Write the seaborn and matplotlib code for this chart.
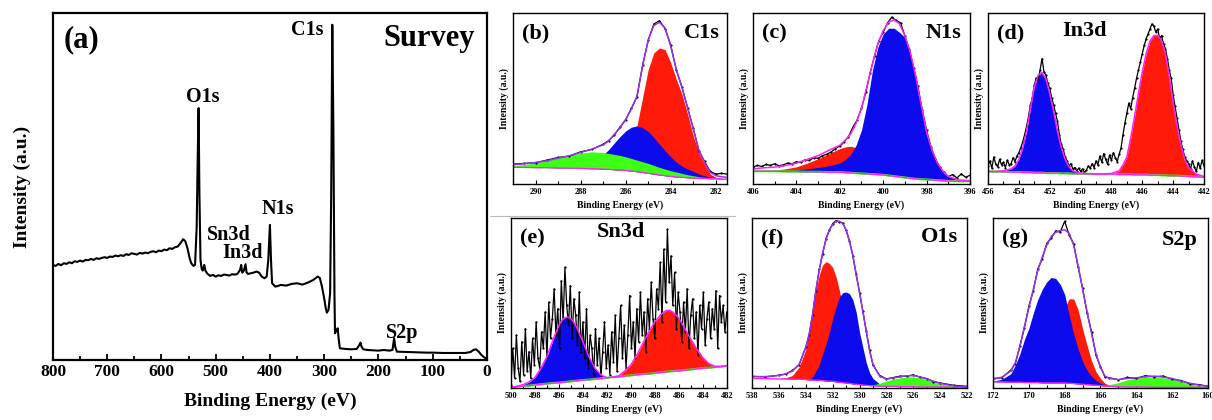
import matplotlib
matplotlib.use('Agg')
import matplotlib.pyplot as plt
from matplotlib.lines import Line2D
from matplotlib.ticker import MultipleLocator
import seaborn as sns

# ---------------- (a) survey spectrum ----------------
survey_energy = [800, 795, 790, 785, 780, 775, 770, 765, 760, 755, 750, 745, 740, 735, 730, 725, 720, 715,
                 710, 705, 700, 695, 690, 685, 680, 675, 670, 665, 660, 655, 650, 645, 640, 635, 630, 625,
                 620, 615, 610, 605, 600, 595, 590, 585, 580, 575, 570, 565, 560, 556, 552, 548, 545, 541,
                 538, 535, 533, 531.5, 530, 528, 526, 524, 521, 519, 515, 510, 505, 500, 495, 490, 485, 480,
                 475, 470, 465, 460, 455, 453, 451, 448, 445, 443, 440, 435, 430, 425, 420, 415, 410, 406,
                 403, 400, 398, 396, 393, 390, 385, 380, 370, 360, 350, 340, 330, 320, 312, 308, 304, 300,
                 297, 295, 292, 289, 287, 285, 283, 281, 280, 277, 275, 273, 271, 260, 250, 240, 235, 233,
                 231, 228, 220, 210, 200, 190, 180, 174, 171, 169, 166, 150, 130, 110, 100, 80, 60, 40, 30,
                 25, 20, 15, 10, 5, 0]
survey_counts = [285, 282, 288, 284, 290, 288, 293, 290, 296, 294, 298, 295, 300, 299, 303, 300, 305, 303,
                 306, 308, 306, 310, 309, 313, 311, 314, 312, 317, 315, 320, 318, 316, 321, 319, 322, 320,
                 324, 326, 323, 328, 326, 331, 329, 335, 333, 338, 340, 350, 362, 356, 335, 305, 290, 282,
                 285, 400, 620, 755, 500, 300, 275, 268, 285, 268, 258, 252, 255, 250, 254, 252, 256, 255,
                 253, 257, 256, 258, 270, 285, 262, 268, 287, 262, 258, 260, 262, 265, 262, 250, 245, 250,
                 300, 405, 300, 230, 225, 220, 222, 225, 223, 228, 230, 226, 232, 240, 250, 246, 220, 185,
                 155, 142, 150, 200, 500, 1005, 700, 200, 80, 90, 95, 60, 35, 33, 32, 33, 45, 52,
                 40, 32, 30, 29, 28, 30, 28, 30, 65, 40, 25, 24, 23, 22, 22, 21, 21, 21, 24,
                 30, 32, 25, 15, 8, 3]
survey_labels = ['C1s', 'O1s', 'N1s', 'Sn3d', 'In3d', 'S2p']
survey_label_energy = [332, 524, 386, 476, 451, 157]
survey_label_counts = [988, 788, 452, 375, 320, 80]

# ---------------- (b) C1s ----------------
c1s_energy = [291, 290.5, 290, 289.5, 289, 288.5, 288, 287.5, 287, 286.75, 286.5, 286.25, 286, 285.75, 285.5,
              285.25, 285, 284.75, 284.5, 284.25, 284, 283.75, 283.5, 283.25, 283, 282.75, 282.5, 282.25,
              282, 281.75, 281.5]
c1s_base = [50, 50, 49, 49, 48, 48, 47, 46, 45, 44, 43, 42, 41, 39, 37, 35, 32, 30, 27, 25, 23, 21, 20, 19,
            18, 17, 17, 16, 16, 15, 15]
c1s_red = [50, 50, 49, 49, 48, 48, 47, 46, 46, 48, 53, 62, 80, 115, 175, 260, 345, 395, 410, 405, 365, 315,
           270, 210, 145, 93, 60, 30, 20, 17, 15]
c1s_blue = [50, 50, 49, 49, 49, 51, 55, 66, 88, 104, 124, 143, 160, 171, 175, 170, 158, 140, 120, 100, 82,
            66, 54, 45, 38, 30, 25, 21, 18, 16, 15]
c1s_green = [55, 59, 63, 71, 80, 87, 93, 97, 95, 92, 89, 86, 82, 77, 72, 67, 62, 56, 50, 45, 40, 36, 32, 28,
             25, 22, 20, 18, 17, 16, 15]
c1s_env = [58, 61, 65, 70, 78, 85, 95, 105, 118, 130, 150, 170, 195, 225, 265, 355, 435, 478, 487, 470, 415,
           345, 290, 230, 165, 102, 65, 35, 25, 22, 20]
c1s_raw = [60, 62, 64, 72, 80, 84, 97, 104, 120, 131, 148, 172, 193, 228, 262, 358, 433, 482, 492, 468, 418,
           342, 292, 228, 168, 100, 68, 38, 30, 32, 30]

# ---------------- (c) N1s ----------------
n1s_energy = [406, 405.5, 405, 404.5, 404, 403.5, 403, 402.5, 402, 401.75, 401.5, 401.25, 401, 400.75, 400.5,
              400.25, 400, 399.75, 399.5, 399.25, 399, 398.75, 398.5, 398.25, 398, 397.75, 397.5, 397.25,
              397, 396.5, 396]
n1s_base = [38, 38, 38, 37, 37, 36, 36, 35, 35, 34, 33, 32, 31, 30, 29, 28, 27, 25, 23, 21, 19, 17, 15, 14,
            13, 12, 11, 10, 9, 8, 8]
n1s_red = [38, 39, 41, 45, 51, 62, 75, 90, 105, 110, 112, 108, 98, 85, 70, 55, 44, 36, 30, 25, 21, 18, 15,
           14, 13, 12, 11, 10, 9, 8, 8]
n1s_blue = [38, 38, 39, 40, 42, 45, 49, 54, 62, 72, 88, 115, 160, 235, 335, 405, 445, 462, 462, 450, 435,
            390, 320, 230, 145, 100, 65, 38, 22, 11, 9]
n1s_env = [45, 48, 50, 55, 62, 73, 84, 100, 115, 130, 148, 180, 225, 290, 355, 415, 455, 480, 487, 475, 440,
           390, 320, 235, 155, 100, 62, 38, 22, 12, 10]
n1s_raw_energy = [406.0 - 0.2 * i for i in range(51)]
n1s_raw = [50, 55, 52, 58, 55, 60, 54, 57, 62, 60, 66, 64, 72, 70, 78, 76, 84, 88, 95, 105, 112, 125, 140,
           168, 190, 225, 272, 330, 380, 425, 450, 478, 495, 485, 478, 440, 400, 345, 290, 220, 160, 110,
           75, 50, 35, 22, 28, 18, 30, 20, 26]

# ---------------- (d) In3d ----------------
in3d_energy = [456, 455.5, 455, 454.5, 454.25, 454, 453.75, 453.5, 453.25, 453, 452.75, 452.5, 452.25, 452,
               451.75, 451.5, 451.25, 451, 450.75, 450.5, 450, 449.5, 449, 448.5, 448, 447.5, 447.25, 447,
               446.75, 446.5, 446.25, 446, 445.75, 445.5, 445.25, 445, 444.75, 444.5, 444.25, 444, 443.75,
               443.5, 443.25, 443, 442.5, 442]
in3d_base = [38, 37.5, 37, 36, 36, 36, 35, 35, 35, 34, 34, 34, 33, 33, 33, 33, 32, 32, 32, 31, 31, 31, 30,
             30, 30, 29, 29, 29, 29, 28, 28, 28, 28, 27, 27, 27, 26, 26, 25, 25, 25, 24, 24, 23, 22, 21]
in3d_blue = [38, 38, 40, 46, 55, 75, 110, 160, 230, 295, 330, 338, 318, 275, 220, 160, 110, 75, 52, 40, 33,
             31, 30, 30, 30, 29, 29, 29, 29, 28, 28, 28, 28, 27, 27, 27, 26, 26, 25, 25, 25, 24, 24, 23,
             22, 21]
in3d_red = [38, 37.5, 37, 36, 36, 36, 35, 35, 35, 34, 34, 34, 33, 33, 33, 33, 32, 32, 32, 31, 31, 31, 30,
            31, 32, 40, 58, 82, 140, 205, 275, 340, 395, 433, 450, 450, 433, 395, 325, 245, 175, 120, 75,
            50, 30, 23]
in3d_raw_energy = [456.0 - 0.125 * i for i in range(113)]
in3d_raw = [55, 70, 48, 82, 60, 52, 75, 58,
            66, 50, 72, 58, 62, 80, 68, 85,
            95, 110, 128, 150, 175, 205, 240, 262,
            300, 322, 318, 345, 380, 340, 330, 305,
            290, 262, 240, 215, 190, 150, 120, 105,
            82, 70, 55, 62, 45, 50, 40, 48,
            38, 46, 35, 42, 55, 48, 62, 50,
            70, 58, 85, 66, 92, 75, 60, 88,
            72, 95, 80, 68, 90, 110, 150, 185,
            215, 245, 228, 262, 290, 320, 345, 370,
            395, 420, 440, 455, 470, 485, 478, 460,
            470, 440, 450, 425, 410, 380, 345, 320,
            270, 235, 200, 165, 130, 105, 82, 70,
            62, 45, 70, 52, 38, 65, 48, 72,
            55]

# ---------------- (e) Sn3d ----------------
sn3d_energy = [500, 499.5, 499, 498.5, 498, 497.5, 497, 496.5, 496, 495.75, 495.5, 495.25, 495, 494.75,
               494.5, 494, 493.5, 493, 492.5, 492, 491.5, 491, 490.5, 490, 489.5, 489, 488.5, 488, 487.5,
               487.25, 487, 486.75, 486.5, 486, 485.5, 485, 484.5, 484, 483.5, 483, 482.5, 482]
sn3d_base = [2, 4, 6, 7, 9, 11, 13, 15, 16, 17, 18, 19, 20, 21, 22, 24, 25, 27, 29, 31, 33, 34, 36, 38, 40,
             42, 43, 45, 47, 48, 49, 50, 51, 52, 54, 56, 58, 60, 61, 63, 65, 67]
sn3d_blue = [2, 5, 10, 18, 32, 60, 95, 145, 190, 205, 213, 215, 210, 198, 182, 140, 95, 60, 40, 31, 33, 34,
             36, 38, 40, 42, 43, 45, 47, 48, 49, 50, 51, 52, 54, 56, 58, 60, 61, 63, 65, 67]
sn3d_red = [2, 4, 6, 7, 9, 11, 13, 15, 16, 17, 18, 19, 20, 21, 22, 24, 25, 27, 29, 31, 33, 37, 52, 70, 100,
            135, 170, 200, 222, 230, 235, 235, 230, 212, 180, 148, 118, 92, 74, 66, 65, 67]
sn3d_raw_energy = [500.0 - 0.15 * i for i in range(121)]
sn3d_raw = [10, 120, 30, 160, 60, 20, 140, 40,
            180, 50, 110, 30, 150, 70, 200, 90,
            60, 170, 120, 230, 90, 260, 150, 210,
            300, 160, 240, 120, 325, 200, 365, 250,
            190, 310, 150, 270, 220, 130, 290, 110,
            200, 90, 240, 60, 160, 120, 40, 180,
            70, 150, 30, 110, 200, 60, 130, 40,
            170, 80, 220, 50, 150, 250, 90, 190,
            60, 160, 280, 120, 200, 90, 240, 140,
            290, 160, 230, 110, 270, 180, 320, 210,
            150, 300, 240, 380, 200, 420, 260, 480,
            320, 400, 250, 350, 180, 290, 230, 140,
            260, 170, 300, 120, 220, 270, 150, 230,
            100, 250, 180, 290, 130, 210, 260, 150,
            240, 180, 295, 120, 280, 200, 250, 170,
            230]

# ---------------- (f) O1s ----------------
o1s_energy = [538, 537, 536, 535.5, 535, 534.5, 534, 533.75, 533.5, 533.25, 533, 532.75, 532.5, 532.25, 532,
              531.75, 531.5, 531.25, 531, 530.75, 530.5, 530.25, 530, 529.75, 529.5, 529.25, 529, 528.5,
              528, 527.5, 527, 526.5, 526, 525.5, 525, 524.5, 524, 523, 522]
o1s_base = [28, 28, 27, 27, 26, 26, 25, 24, 24, 23, 23, 22, 21, 20, 20, 18, 17, 16, 15, 14, 12, 11, 10, 9, 8,
            7, 7, 6, 5, 5, 4, 4, 4, 3, 3, 3, 3, 2, 2]
o1s_red = [28, 28, 28, 30, 37, 62, 115, 170, 225, 290, 335, 365, 375, 370, 358, 330, 290, 240, 190, 140, 95,
           60, 38, 22, 14, 10, 8, 6, 5, 5, 4, 4, 4, 3, 3, 3, 3, 2, 2]
o1s_blue = [28, 28, 27, 27, 26, 26, 26, 27, 32, 50, 68, 100, 130, 165, 205, 240, 270, 283, 285, 280, 262,
            225, 165, 120, 75, 45, 28, 12, 6, 5, 4, 4, 4, 3, 3, 3, 3, 2, 2]
o1s_green = [28, 28, 27, 27, 26, 26, 25, 24, 24, 23, 23, 22, 21, 20, 20, 18, 17, 16, 15, 14, 12, 11, 10, 9,
             8, 8, 9, 14, 21, 26, 30, 33, 33, 30, 25, 18, 13, 5, 2]
o1s_env = [33, 34, 37, 42, 50, 70, 120, 160, 215, 290, 350, 400, 440, 470, 485, 495, 495, 488, 470, 435,
           395, 335, 285, 225, 170, 110, 70, 35, 26, 30, 33, 36, 37, 33, 27, 20, 14, 6, 3]
o1s_raw = [35, 33, 38, 41, 52, 68, 122, 158, 218, 288, 352, 398, 443, 468, 488, 497, 493, 490, 468, 437,
           392, 338, 282, 228, 168, 112, 68, 37, 27, 31, 35, 35, 39, 32, 28, 19, 15, 8, 5]

# ---------------- (g) S2p ----------------
s2p_energy = [172, 171.5, 171, 170.75, 170.5, 170.25, 170, 169.75, 169.5, 169.25, 169, 168.75, 168.5, 168.25,
              168, 167.75, 167.5, 167.25, 167, 166.75, 166.5, 166.25, 166, 165.75, 165.5, 165, 164.5, 164,
              163.5, 163, 162.5, 162, 161.5, 161, 160.5, 160]
s2p_base = [18, 18, 17, 17, 17, 16, 16, 16, 16, 15, 15, 15, 15, 15, 15, 14, 13, 12, 11, 10, 9, 8, 7, 6, 5, 4,
            3, 3, 3, 2, 2, 2, 2, 2, 2, 2]
s2p_blue = [20, 26, 42, 68, 100, 142, 175, 220, 260, 290, 312, 325, 322, 305, 275, 215, 160, 115, 78, 52,
            35, 22, 14, 9, 6, 4, 3, 3, 3, 2, 2, 2, 2, 2, 2, 2]
s2p_red = [18, 18, 17, 17, 17, 16, 16, 17, 20, 28, 45, 75, 120, 180, 235, 262, 262, 230, 175, 125, 80, 48,
           28, 14, 8, 4, 3, 3, 3, 2, 2, 2, 2, 2, 2, 2]
s2p_green = [18, 18, 17, 17, 17, 16, 16, 16, 16, 15, 15, 15, 15, 15, 15, 14, 13, 12, 11, 10, 9, 8, 7, 7, 10,
             16, 24, 29, 32, 32, 30, 27, 19, 12, 6, 3]
s2p_env = [25, 32, 50, 75, 120, 180, 235, 290, 345, 385, 420, 445, 458, 463, 465, 455, 420, 360, 290, 225,
           160, 100, 60, 35, 28, 25, 28, 30, 33, 35, 32, 28, 20, 14, 8, 5]
s2p_raw = [28, 30, 53, 72, 124, 176, 240, 286, 350, 380, 425, 440, 462, 458, 490, 450, 424, 356, 294, 220,
           165, 96, 63, 32, 30, 24, 31, 28, 36, 33, 35, 26, 22, 12, 10, 5]

RED = '#FF1A0A'
BLUE = '#0B0BEE'
GREEN = '#3CFF14'
MAGENTA = '#FF20FF'
VIOLET = '#9B30F5'

sns.set_theme(style='ticks')
plt.rcParams['font.family'] = ['Liberation Serif', 'DejaVu Serif']
plt.rcParams['font.weight'] = 'bold'
plt.rcParams['axes.labelweight'] = 'bold'
plt.rcParams['text.color'] = 'black'
plt.rcParams['axes.labelcolor'] = 'black'
plt.rcParams['xtick.color'] = 'black'

fig = plt.figure(figsize=(12.12, 4.2), dpi=100)


def style_axis(ax, xlim, ylim, major, minor, spine_lw, tick_size, tick_len):
    ax.set_xlim(*xlim)
    ax.set_ylim(*ylim)
    ax.xaxis.set_major_locator(MultipleLocator(major))
    ax.xaxis.set_minor_locator(MultipleLocator(minor))
    ax.set_yticks([])
    ax.tick_params(axis='x', which='both', direction='in', top=False, labelsize=tick_size,
                   width=spine_lw * 0.8, pad=3, colors='black')
    ax.tick_params(axis='x', which='major', length=tick_len)
    ax.tick_params(axis='x', which='minor', length=tick_len * 0.7)
    for sp in ax.spines.values():
        sp.set_visible(True)
        sp.set_linewidth(spine_lw)
        sp.set_color('black')
    for lab in ax.get_xticklabels():
        lab.set_fontweight('bold')


def draw_fit(ax, energy, base, comps, env, raw_energy, raw, env_color, green_line=False):
    sns.lineplot(x=raw_energy, y=raw, ax=ax, color='black', linewidth=0.9, marker='o', markersize=1.6,
                 markeredgewidth=0, estimator=None, sort=False)
    for vals, color in comps:
        ax.fill_between(energy, base, vals, color=color, linewidth=0)
    if green_line:
        sns.lineplot(x=energy, y=base, ax=ax, color=GREEN, linewidth=1.6, estimator=None, sort=False)
    sns.lineplot(x=energy, y=base, ax=ax, color=MAGENTA, linewidth=0.9, estimator=None, sort=False)
    sns.lineplot(x=energy, y=env, ax=ax, color=env_color, linewidth=1.1, estimator=None, sort=False)


def small_labels(ax, tag, element, elem_x, elem_ha, elem_y=0.885):
    ax.text(0.04, 0.88, tag, transform=ax.transAxes, fontsize=16, fontweight='bold', ha='left', va='center')
    ax.text(elem_x, elem_y, element, transform=ax.transAxes, fontsize=16, fontweight='bold', ha=elem_ha,
            va='center')
    ax.set_xlabel('Binding Energy (eV)', fontsize=7, labelpad=3)
    ax.set_ylabel('Intensity (a.u.)', fontsize=7, labelpad=3)


# (a) survey
ax_a = fig.add_axes([0.0437, 0.1429, 0.358, 0.826])
sns.lineplot(x=survey_energy, y=survey_counts, ax=ax_a, color='black', linewidth=1.5, estimator=None,
             sort=False)
style_axis(ax_a, (800, 0), (0, 1040), 100, 50, 1.6, 12.5, 4.5)
ax_a.set_xlabel('Binding Energy (eV)', fontsize=14, labelpad=9)
ax_a.set_ylabel('Intensity (a.u.)', fontsize=14, labelpad=16)
for name, ex, ey in zip(survey_labels, survey_label_energy, survey_label_counts):
    ax_a.text(ex, ey, name, fontsize=14.5, fontweight='bold', ha='center', va='center')
ax_a.text(747, 960, '(a)', fontsize=22, fontweight='bold', ha='center', va='center')
ax_a.text(107, 963, 'Survey', fontsize=22, fontweight='bold', ha='center', va='center')

# (b) C1s
ax_b = fig.add_axes([0.4233, 0.5619, 0.1766, 0.407])
draw_fit(ax_b, c1s_energy, c1s_base, [(c1s_red, RED), (c1s_blue, BLUE), (c1s_green, GREEN)], c1s_env,
         c1s_energy, c1s_raw, VIOLET)
style_axis(ax_b, (291, 281.5), (0, 515), 2, 1, 1.0, 6, 3)
small_labels(ax_b, '(b)', 'C1s', 0.965, 'right')

# (c) N1s
ax_c = fig.add_axes([0.6213, 0.5619, 0.179, 0.407])
draw_fit(ax_c, n1s_energy, n1s_base, [(n1s_red, RED), (n1s_blue, BLUE)], n1s_env,
         n1s_raw_energy, n1s_raw, MAGENTA, green_line=True)
style_axis(ax_c, (406, 396), (0, 507), 2, 1, 1.0, 6, 3)
small_labels(ax_c, '(c)', 'N1s', 0.96, 'right')

# (d) In3d
ax_d = fig.add_axes([0.8152, 0.5619, 0.1782, 0.407])
in3d_env = [max(b, r) for b, r in zip(in3d_blue, in3d_red)]
draw_fit(ax_d, in3d_energy, in3d_base, [(in3d_red, RED), (in3d_blue, BLUE)], in3d_env,
         in3d_raw_energy, in3d_raw, MAGENTA, green_line=True)
style_axis(ax_d, (456, 442), (0, 518), 2, 1, 1.0, 6, 3)
small_labels(ax_d, '(d)', 'In3d', 0.447, 'center', 0.895)

# (e) Sn3d
ax_e = fig.add_axes([0.4216, 0.0762, 0.178, 0.405])
sn3d_env = [max(b, r) for b, r in zip(sn3d_blue, sn3d_red)]
draw_fit(ax_e, sn3d_energy, sn3d_base, [(sn3d_red, RED), (sn3d_blue, BLUE)], sn3d_env,
         sn3d_raw_energy, sn3d_raw, MAGENTA, green_line=True)
style_axis(ax_e, (500, 482), (0, 515), 2, 1, 1.0, 6, 3)
small_labels(ax_e, '(e)', 'Sn3d', 0.509, 'center', 0.918)

# (f) O1s
ax_f = fig.add_axes([0.6205, 0.0762, 0.1774, 0.405])
draw_fit(ax_f, o1s_energy, o1s_base, [(o1s_red, RED), (o1s_blue, BLUE), (o1s_green, GREEN)], o1s_env,
         o1s_energy, o1s_raw, VIOLET)
style_axis(ax_f, (538, 522), (0, 505), 2, 1, 1.0, 6, 3)
small_labels(ax_f, '(f)', 'O1s', 0.958, 'right')

# (g) S2p
ax_g = fig.add_axes([0.8193, 0.0762, 0.1774, 0.405])
draw_fit(ax_g, s2p_energy, s2p_base, [(s2p_red, RED), (s2p_blue, BLUE), (s2p_green, GREEN)], s2p_env,
         s2p_energy, s2p_raw, VIOLET)
style_axis(ax_g, (172, 160), (0, 500), 2, 1, 1.0, 6, 3)
small_labels(ax_g, '(g)', 'S2p', 0.953, 'right', 0.87)

# thin separator from the original figure composition
fig.add_artist(Line2D([490 / 1212, 735 / 1212], [1 - 216.5 / 420] * 2, color='#BBBBBB', linewidth=0.8))

fig.savefig('out.png', dpi=100)
